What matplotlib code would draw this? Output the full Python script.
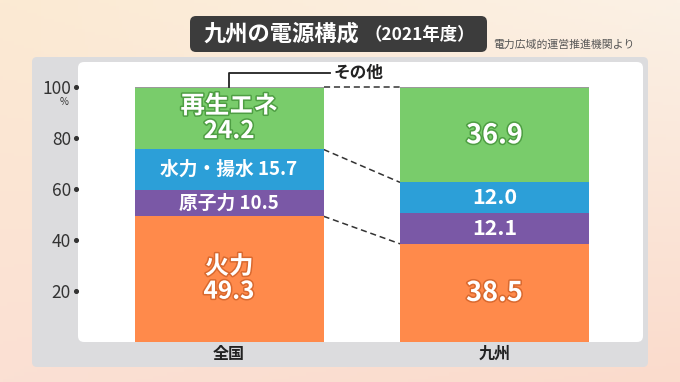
import matplotlib
matplotlib.use("Agg")
import matplotlib.pyplot as plt
import matplotlib.patheffects as pe
from matplotlib.patches import FancyBboxPatch
from matplotlib.transforms import blended_transform_factory
import numpy as np

plt.rcParams['font.family'] = ['Noto Sans CJK JP', 'DejaVu Sans']

# data
regions = ["全国", "九州"]
thermal = [49.3, 38.5]
nuclear = [10.5, 12.1]
hydro = [15.7, 12.0]
renew = [24.2, 36.9]
other = [0.3, 0.5]
yticks = [20, 40, 60, 80, 100]

C_THERMAL = "#FF8A4B"
C_NUCLEAR = "#7A58A6"
C_HYDRO = "#2C9FD8"
C_RENEW = "#79CC6B"
C_OTHER = "#9A9A9A"

W, H = 680, 382
fig = plt.figure(figsize=(W / 100, H / 100), dpi=100)


def px(x0, y0, x1, y1):
    # pixel box (top-left origin) -> figure fraction rect
    return [x0 / W, 1 - y1 / H, (x1 - x0) / W, (y1 - y0) / H]


# background gradient
bg = fig.add_axes([0, 0, 1, 1])
bg.set_zorder(-5)
tl = np.array([252, 234, 211]) / 255
tr = np.array([251, 241, 229]) / 255
bl = np.array([251, 224, 212]) / 255
br = np.array([250, 219, 204]) / 255
u = np.linspace(0, 1, 200)[None, :, None]
v = np.linspace(0, 1, 120)[:, None, None]
img = (1 - v) * ((1 - u) * tl + u * tr) + v * ((1 - u) * bl + u * br)
bg.imshow(img, aspect="auto", extent=[0, 1, 0, 1])
bg.set_xlim(0, 1)
bg.set_ylim(0, 1)
bg.axis("off")


def fig_box(x0, y0, x1, y1, color, r):
    p = FancyBboxPatch((x0 / W, 1 - y1 / H), (x1 - x0) / W, (y1 - y0) / H,
                       boxstyle="round,pad=0,rounding_size=%f" % (r / W),
                       transform=fig.transFigure, facecolor=color,
                       edgecolor="none", zorder=-1, mutation_aspect=W / H)
    fig.add_artist(p)


fig_box(32, 57, 648, 367, "#DCDCDE", 5)
fig_box(78, 62, 643, 342, "white", 6)
fig_box(190, 16, 487, 52, "#3C3C3C", 6)

fig.text(204 / W, 1 - 34 / H, "九州の電源構成", color="white", fontsize=16,
         fontweight="bold", va="center", ha="left")
fig.text(364 / W, 1 - 35 / H, "（2021年度）", color="white", fontsize=12.5,
         fontweight="bold", va="center", ha="left")
fig.text(493 / W, 1 - 45 / H, "電力広域的運営推進機関より", color="#555555",
         fontsize=7.8, va="center", ha="left")

# main axes
ax = fig.add_axes(px(78, 62, 644, 342))
ax.set_zorder(1)
ax.set_facecolor("none")
ax.set_xlim(-0.569, 1.563)
ax.set_ylim(0, 109.8)
for s in ax.spines.values():
    s.set_visible(False)

x = np.arange(len(regions))
bw = 0.712
bottom = np.zeros(len(regions))
for vals, col in [(thermal, C_THERMAL), (nuclear, C_NUCLEAR),
                  (hydro, C_HYDRO), (renew, C_RENEW), (other, C_OTHER)]:
    ax.bar(x, vals, bw, bottom=bottom, color=col, edgecolor="none", zorder=3)
    bottom = bottom + np.array(vals)

ax.set_xticks(x)
ax.set_xticklabels(regions, fontsize=11.5, fontweight="bold", color="#222222")
ax.tick_params(axis="x", length=0, pad=3)
ax.set_yticks(yticks)
ax.set_yticklabels([str(t) for t in yticks], fontsize=12.5, color="#333333")
ax.tick_params(axis="y", length=0, pad=5)
trans = blended_transform_factory(ax.transAxes, ax.transData)
ax.scatter([-0.004] * len(yticks), yticks, s=7, color="#333333",
           transform=trans, clip_on=False, zorder=5)
ax.text(-0.024, 94.3, "%", transform=trans, fontsize=7, color="#333333",
        ha="center", va="center")

# connector lines
half = bw / 2
cum_th = np.array(thermal)
cum_hy = cum_th + np.array(nuclear) + np.array(hydro)
top = cum_hy + np.array(renew) + np.array(other)
dash = dict(color="#333333", lw=1.1, ls=(0, (4, 2.5)), zorder=2)
ax.plot([x[0] + half, x[1] - half], [cum_th[0], cum_th[1]], **dash)
ax.plot([x[0] + half, x[1] - half], [cum_hy[0], cum_hy[1]], **dash)
ax.plot([x[0] + half, x[1] - half], [100, 100], **dash)

# その他 bracket
ax.plot([x[0], x[0], x[0] + 0.38], [top[0], 105.5, 105.5], color="#222222",
        lw=1.3, zorder=4, clip_on=False)
ax.text(x[0] + 0.395, 105.5, "その他", fontsize=12, fontweight="bold",
        color="#222222", va="center", ha="left")


def label(xc, y, s, size, edge):
    t = ax.text(xc, y, s, ha="center", va="center", color="white",
                fontsize=size, fontweight="bold", zorder=6, linespacing=1.05)
    if edge:
        t.set_path_effects([pe.withStroke(linewidth=2.2, foreground=edge)])


# 全国
label(x[0], cum_hy[0] + renew[0] / 2, "再生エネ\n24.2", 17.5, "#4E9E43")
label(x[0], cum_th[0] + nuclear[0] + hydro[0] / 2,
      "水力・揚水 %.1f" % hydro[0], 13.5, None)
label(x[0], cum_th[0] + nuclear[0] / 2, "原子力 %.1f" % nuclear[0], 13.5, None)
label(x[0], thermal[0] / 2, "火力\n%.1f" % thermal[0], 17.5, "#D9692F")
# 九州
label(x[1], cum_hy[1] + renew[1] / 2, "%.1f" % renew[1], 19.5, "#4E9E43")
label(x[1], cum_th[1] + nuclear[1] + hydro[1] / 2, "%.1f" % hydro[1], 15.5, None)
label(x[1], cum_th[1] + nuclear[1] / 2, "%.1f" % nuclear[1], 15.5, None)
label(x[1], thermal[1] / 2, "%.1f" % thermal[1], 19.5, "#D9692F")

fig.savefig("out.png", dpi=100)
